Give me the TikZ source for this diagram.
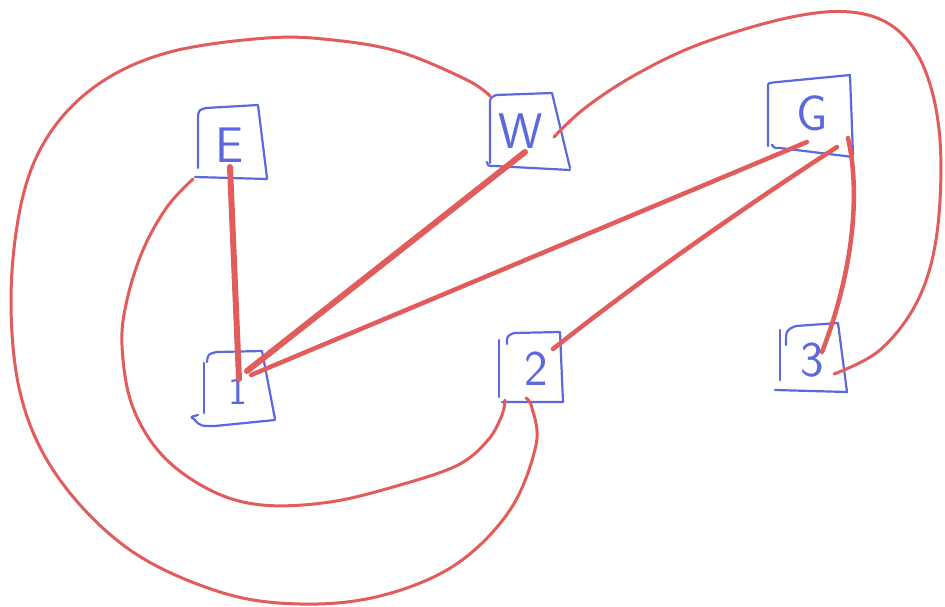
\documentclass[tikz,border=0pt]{standalone}
\usetikzlibrary{calc}
\definecolor{pen}{RGB}{92,104,222}
\definecolor{ink}{RGB}{226,92,92}
\begin{document}
\begin{tikzpicture}[x=1pt,y=-1pt,
  lbl/.style={text=pen,inner sep=0pt,font=\sffamily\fontsize{50}{50}\selectfont},
  boxline/.style={draw=pen,line width=2.2pt,line cap=round,line join=round},
  thick edge/.style={draw=ink,line width=6pt,line cap=round},
  mid edge/.style={draw=ink,line width=4.5pt,line cap=round},
  loop edge/.style={draw=ink,line width=3pt,line cap=round}]
\useasboundingbox[fill=white] (0,0) rectangle (945,607);

% labels
\node[lbl] (E) at (230,145) {E};
\node[lbl] (W) at (521,131) {W};
\node[lbl] (G) at (812,113) {G};
\node[lbl,font=\sffamily\fontsize{40}{40}\selectfont] (n1) at (238,391) {1};
\node[lbl] (n2) at (536,369) {2};
\node[lbl] (n3) at (812,360) {3};

% hand-drawn boxes
\draw[boxline] (198,168) -- (198,116) .. controls (199,110) .. (206,108) -- (258,105) -- (267,178);
\draw[boxline] (195,177) -- (267,179);
\draw[boxline] (490,163) -- (490,104) .. controls (490,98) .. (496,95) -- (552,93) -- (570,168);
\draw[boxline] (487,162) .. controls (488,166) .. (494,166) -- (570,170);
\draw[boxline] (768,146) -- (768,86) .. controls (768,83) .. (778,82) -- (850,75) -- (853,155);
\draw[boxline] (772,145) .. controls (774,148) .. (780,148) -- (853,157);
\draw[boxline] (204,413) -- (204,363);
\draw[boxline] (207,362) .. controls (208,354) .. (217,352) -- (262,351) -- (275,419);
\draw[boxline] (198,415) .. controls (190,417) .. (194,419) .. controls (200,426) .. (215,426) -- (275,420);
\draw[boxline] (499,397) -- (499,340);
\draw[boxline] (507,344) .. controls (507,336) .. (514,333) -- (560,332) -- (563,402) -- (502,402);
\draw[boxline] (780,380) -- (780,330);
\draw[boxline] (786,345) .. controls (786,330) .. (796,326) -- (838,323) -- (847,392) -- (775,390);

% connection points
\coordinate (pE1) at (230,167);
\coordinate (p1E) at (239,379);
\coordinate (pW1) at (525,152);
\coordinate (p1W) at (247,371);
\coordinate (pG1) at (807,142);
\coordinate (p1G) at (251,375);
\coordinate (pG2) at (837,147);
\coordinate (p2G) at (553,349);
\coordinate (pG3) at (848,138);
\coordinate (p3G) at (822,352);
\coordinate (pW3) at (554,137);
\coordinate (p3W) at (834,374);
\coordinate (pWo) at (490,96);
\coordinate (p2o) at (526,398);
\coordinate (pEi) at (193,179);
\coordinate (p2i) at (505,400);

% straight connectors
\draw[thick edge] (pE1) -- (p1E);
\draw[thick edge] (pW1) -- (p1W);
\draw[mid edge] (pG1) -- (p1G);
\draw[mid edge] (pG2) .. controls (740,210) and (640,280) .. (p2G);
\draw[mid edge] (pG3) .. controls (862,200) and (850,280) .. (p3G);

% loops
\draw[loop edge] plot[smooth,tension=0.6] coordinates {(pW3) (585,108) (635,75) (700,44) (787,18) (850,12) (895,28) (925,70) (940,140) (937,233) (918,300) (880,350) (p3W)};
\draw[loop edge] plot[smooth,tension=0.6] coordinates {(pWo) (467,80) (400,52) (333,40) (267,38) (170,52) (100,83) (50,133) (22,200) (11,300) (22,400) (60,480) (130,550) (220,592) (300,604) (380,596) (455,565) (510,510) (536,445) (532,408) (p2o)};
\draw[loop edge] plot[smooth,tension=0.6] coordinates {(pEi) (167,207) (143,250) (127,300) (122,345) (132,405) (162,455) (210,490) (262,505) (330,502) (400,485) (458,465) (488,440) (502,415) (p2i)};
\end{tikzpicture}
\end{document}
